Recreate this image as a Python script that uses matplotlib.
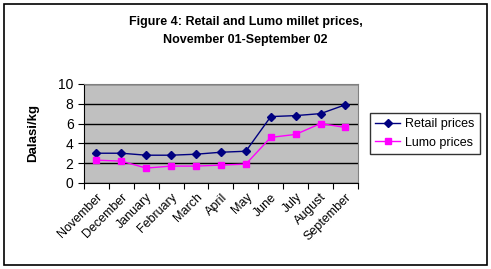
import numpy as np
import matplotlib
matplotlib.use('Agg')
import matplotlib.pyplot as plt
from matplotlib.patches import Rectangle

months = ['November', 'December', 'January', 'February', 'March', 'April',
          'May', 'June', 'July', 'August', 'September']
retail = [3.0, 3.0, 2.8, 2.8, 2.9, 3.1, 3.2, 6.7, 6.8, 7.0, 7.9]
lumo = [2.3, 2.2, 1.5, 1.7, 1.7, 1.8, 1.9, 4.6, 4.9, 6.0, 5.6]

plt.rcParams['font.family'] = ['Liberation Sans', 'DejaVu Sans']

fig = plt.figure(figsize=(4.91, 2.69), dpi=100)
fig.patches.append(Rectangle((0.008, 0.015), 0.984, 0.97, transform=fig.transFigure,
                             fill=False, edgecolor='black', linewidth=1.2))
ax = fig.add_axes([0.171, 0.320, 0.558, 0.368])
ax.set_facecolor('#c0c0c0')

x = np.arange(len(months))
ax.plot(x, retail, color='#000080', marker='D', markersize=4, linewidth=1, label='Retail prices')
ax.plot(x, lumo, color='#ff00ff', marker='s', markersize=5, linewidth=1, label='Lumo prices')

ax.set_xlim(-0.5, len(months) - 0.5)
ax.set_ylim(0, 10)
ax.set_yticks([0, 2, 4, 6, 8, 10])
ax.yaxis.grid(True, color='black', linewidth=1)
ax.set_axisbelow(True)
ax.set_xticks(np.arange(len(months) + 1) - 0.5)
ax.set_xticklabels([])
ax.set_xticks(x, minor=True)
ax.set_xticklabels(months, minor=True, rotation=45, ha='right', rotation_mode='anchor', fontsize=9)
ax.tick_params(axis='x', which='minor', length=0, pad=6)
ax.tick_params(axis='x', which='major', length=4, direction='out')
ax.tick_params(axis='y', labelsize=10, length=4)
for s in ['top', 'right']:
    ax.spines[s].set_color('#808080')
ax.set_ylabel('Dalasi/kg', fontsize=9.5, fontweight='bold', labelpad=14)

fig.text(0.5, 0.885, 'Figure 4: Retail and Lumo millet prices,\nNovember 01-September 02',
         ha='center', va='center', fontsize=9, fontweight='bold', linespacing=1.75)

ax.legend(loc='center left', bbox_to_anchor=(1.045, 0.5), frameon=True, fancybox=False,
          edgecolor='black', fontsize=9, borderpad=0.4, handlelength=2.0, handletextpad=0.4,
          labelspacing=0.5, borderaxespad=0)

fig.savefig('out.png', dpi=100)
